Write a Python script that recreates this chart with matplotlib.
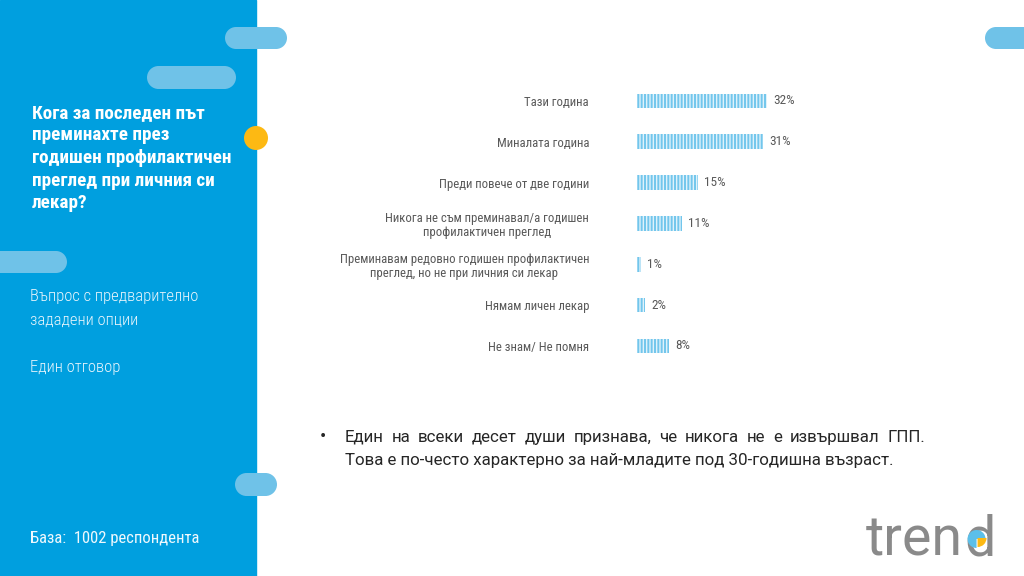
import matplotlib
matplotlib.use("Agg")
import matplotlib.pyplot as plt
from matplotlib import font_manager
from matplotlib.patches import Circle, Wedge, Rectangle

# ---------------- data ----------------
categories = [
    "Тази година",
    "Миналата година",
    "Преди повече от две години",
    "Никога не съм преминавал/а годишен\nпрофилактичен преглед",
    "Преминавам редовно годишен профилактичен\nпреглед, но не при личния си лекар",
    "Нямам личен лекар",
    "Не знам/ Не помня",
]
values = [32, 31, 15, 11, 1, 2, 8]
value_labels = ["32%", "31%", "15%", "11%", "1%", "2%", "8%"]

title_lines = ["Кога за последен път", "преминахте през", "годишен профилактичен",
               "преглед при личния си", "лекар?"]
subtitle_lines = ["Въпрос с предварително", "зададени опции"]
answer_text = "Един отговор"
base_text = "База:  1002 респондента"
bullet_line1 = "Един на всеки десет души признава, че никога не е извършвал ГПП."
bullet_line2 = "Това е по-често характерно за най-младите под 30-годишна възраст."

# ---------------- fonts ----------------
names = {f.name for f in font_manager.fontManager.ttflist}
cond = None
for cand in ["Roboto Condensed", "Liberation Sans Narrow", "DejaVu Sans Condensed"]:
    if cand in names:
        cond = cand
        break
base_family = "Roboto" if "Roboto" in names else "DejaVu Sans"
cond_family = cond if cond else base_family
plt.rcParams["font.family"] = [cond_family, "DejaVu Sans"]

W, H = 1024, 576
fig = plt.figure(figsize=(W / 100, H / 100), dpi=100)
fig.patch.set_facecolor("white")

bg = fig.add_axes([0, 0, 1, 1])
bg.set_xlim(0, W)
bg.set_ylim(H, 0)
bg.axis("off")

BLUE = "#009fdf"
PILL = "#6fc2e8"
YELLOW = "#fdb913"

bg.add_patch(Rectangle((0, 0), 256, H, color=BLUE, zorder=1))


def pill(x0, x1, y0, y1):
    h = y1 - y0
    r = h / 2
    bg.add_patch(Rectangle((x0 + r, y0), (x1 - x0) - 2 * r, h, color=PILL, lw=0, zorder=2))
    bg.add_patch(Circle((x0 + r, y0 + r), r, color=PILL, lw=0, zorder=2))
    bg.add_patch(Circle((x1 - r, y0 + r), r, color=PILL, lw=0, zorder=2))


pill(225, 287, 27, 49)
pill(147, 236, 66, 89)
pill(-30, 67, 251, 273)
pill(235, 277, 473, 496)
pill(985, 1050, 27, 49)
bg.add_patch(Circle((256, 138), 12, color=YELLOW, lw=0, zorder=3))

# left panel texts
for i, line in enumerate(title_lines):
    bg.text(32, 118 + 22.5 * i, line, color="white", fontsize=13.8, fontweight="bold",
            va="baseline", ha="left", zorder=5)
for i, line in enumerate(subtitle_lines):
    bg.text(30, 301 + 24 * i, line, color="#e8f5fc", fontsize=12, fontweight="light",
            va="baseline", ha="left", zorder=5)
bg.text(30, 372, answer_text, color="#e8f5fc", fontsize=12, fontweight="light",
        va="baseline", ha="left", zorder=5)
bg.text(30, 538, base_text, color="#eef8fd", fontsize=12, fontweight="normal",
        va="center", ha="left", zorder=5)

# bullet text
TXT = "#262626"
fig.canvas.draw()
renderer = fig.canvas.get_renderer()

probe = bg.text(0, 0, bullet_line2, fontsize=11.5, family=[base_family])
pw = probe.get_window_extent(renderer=renderer).width
probe.remove()
BFS = 11.5 * 556.0 / pw

bg.text(320, 442, "•", color=TXT, fontsize=BFS * 1.1, va="baseline", ha="left", zorder=5,
        family=[base_family])


def justify(line, y, x_left, x_right):
    words = line.split(" ")
    objs, widths = [], []
    for w in words:
        t = bg.text(0, y, w, color=TXT, fontsize=BFS, va="baseline", ha="left",
                    zorder=5, family=[base_family])
        bb = t.get_window_extent(renderer=renderer)
        objs.append(t)
        widths.append(bb.width)
    gap = (x_right - x_left - sum(widths)) / (len(words) - 1)
    x = x_left
    for t, wd in zip(objs, widths):
        t.set_x(x)
        x += wd + gap


justify(bullet_line1, 442, 345, 925)
bg.text(345, 465, bullet_line2, color=TXT, fontsize=BFS, va="baseline", ha="left",
        zorder=5, family=[base_family])

# logo
LFS = 40
logo = bg.text(866, 555, "tren", color="#8a8a8a", fontsize=LFS, fontweight="normal",
               family=[base_family], va="baseline", ha="left", zorder=5)
bb = logo.get_window_extent(renderer=renderer)
dx = bb.x1 + 1
d = bg.text(dx, 555, "d", color="#8a8a8a", fontsize=LFS, fontweight="normal",
            family=[base_family], va="baseline", ha="left", zorder=5)
bbd = d.get_window_extent(renderer=renderer)
cx = dx + bbd.width * 0.40
cy = 539
bg.add_patch(Wedge((cx, cy), 9, 90, 360, facecolor="#5bbfe9", lw=0, zorder=6))
bg.add_patch(Wedge((cx + 1, cy - 1), 9, 0, 90, facecolor=YELLOW, lw=0, zorder=6))

# ---------------- bar chart ----------------
px_per_pct = 4.06
ax_left = 637
ax_width_px = 200
row_top, row_step = 101, 40.83
n = len(categories)
top_px = row_top - row_step / 2
h_px = row_step * n
ax = fig.add_axes([ax_left / W, 1 - (top_px + h_px) / H, ax_width_px / W, h_px / H])
ax.set_xlim(0, ax_width_px / px_per_pct)
ax.set_ylim(n - 0.5, -0.5)
ax.patch.set_alpha(0)
for s in ax.spines.values():
    s.set_visible(False)

plt.rcParams["hatch.linewidth"] = 1.4
ypos = list(range(n))
ax.barh(ypos, values, height=0.36, facecolor="#dff2fb", edgecolor="#72c6ec",
        linewidth=0, hatch="|||||", zorder=3)
for y, v, lab in zip(ypos, values, value_labels):
    ax.annotate(lab, (v, y), xytext=(4.5, 0), textcoords="offset points",
                va="center", ha="left", fontsize=9.5, color="#595959")
ax.set_xticks([])
ax.set_yticks(ypos)
ax.set_yticklabels(categories, fontsize=9.2, color="#595959", multialignment="center",
                   linespacing=1.1)
ax.tick_params(axis="y", length=0, pad=34.5)

fig.savefig("out.png", dpi=100, facecolor="white")
